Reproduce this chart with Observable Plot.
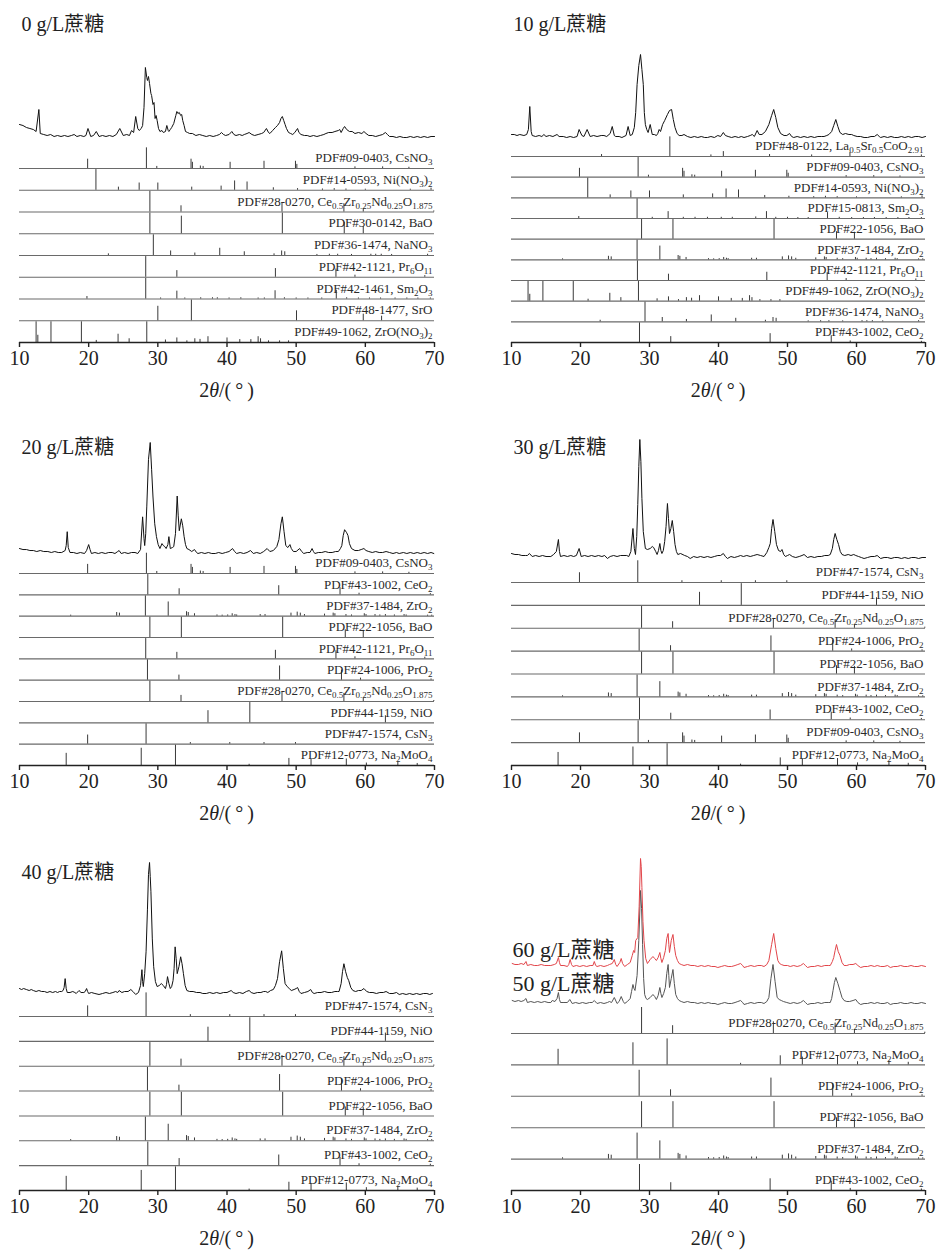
<!DOCTYPE html>
<html><head><meta charset="utf-8">
<script src="https://cdn.jsdelivr.net/npm/d3@7"></script>
<script src="https://cdn.jsdelivr.net/npm/@observablehq/plot@0.6"></script>
<style>
body{margin:0;background:#fff;}
#root{position:relative;width:937px;height:1250px;overflow:hidden;font-family:"Liberation Serif","Times New Roman","Noto Sans CJK SC",serif;color:#222;}
.xl{position:absolute;text-align:center;font-size:20px;line-height:24px;}
</style></head>
<body><div id="root"></div>
<script>
// ---------- measured patterns: [2θ, intensity (a.u.)] ----------
const p0 = [[10.0,13],[10.5,12],[11.0,10],[11.5,9],[12.0,8],[12.4,6],[12.8,28],[13.0,4],[13.5,3],[14,2],[14.5,3],[15,1],[15.5,2],[16,1],[16.5,2],[17,1],[17.5,2],[17.9,3],[18.3,1],[18.8,2],[19.3,1],[19.6,2],[19.9,9],[20.3,1],[20.7,2],[21.1,6],[21.5,1],[22,2],[22.5,1],[23,2],[23.5,1],[24.0,3],[24.5,9],[25,2],[25.5,3],[25.9,2],[26.2,7],[26.5,5],[26.8,21],[27.1,9],[27.3,7],[27.6,9],[27.8,12],[28.0,30],[28.2,70],[28.4,60],[28.5,57],[28.65,61],[28.8,54],[29.0,44],[29.1,42],[29.3,33],[29.45,35],[29.6,19],[29.75,22],[29.9,17],[30.1,9],[30.3,6],[30.6,7],[30.8,5],[31.1,6],[31.3,12],[31.5,7],[31.6,6],[31.8,8],[32.0,10],[32.3,14],[32.6,22],[32.75,26],[32.9,24],[33.1,25],[33.3,22],[33.45,23],[33.6,17],[33.8,12],[34.0,6],[34.3,5],[34.6,4],[35.0,4],[35.5,2],[36,3],[36.5,2],[37,1],[37.5,2],[38,1],[38.5,2],[38.9,3],[39.2,5],[39.5,3],[39.8,2],[40.3,3],[40.7,6],[41.0,3],[41.3,2],[41.8,3],[42.2,2],[42.5,3],[42.9,4],[43.2,5],[43.6,3],[44.0,2],[44.5,3],[45.0,4],[45.3,5],[45.7,9],[46.0,5],[46.2,4],[46.6,7],[47.0,10],[47.3,12],[47.6,15],[47.8,19],[48.0,21],[48.2,17],[48.4,13],[48.6,9],[48.9,5],[49.2,4],[49.5,3],[49.8,5],[50.2,9],[50.4,5],[50.7,3],[51.2,2],[51.6,2],[52,1],[52.5,2],[53,1],[53.5,2],[54.0,3],[54.3,4],[54.7,5],[55.2,5],[55.6,6],[56.1,7],[56.3,8],[56.5,5],[56.8,9],[57.0,11],[57.3,8],[57.7,6],[58.1,6],[58.5,4],[59.0,5],[59.5,4],[59.8,6],[60.1,4],[60.5,2],[61,2],[61.5,1],[62.0,2],[62.5,3],[62.9,5],[63.2,3],[63.5,1],[64,1],[64.5,0],[65,1],[65.5,0],[66,0],[66.5,1],[67,0],[67.5,1],[68,0],[68.5,1],[69,0],[69.5,1],[70,1]];
const p10 = [[10.0,3],[10.4,3],[10.8,2],[11.2,3],[11.8,2],[12.2,3],[12.45,8],[12.65,31],[12.85,6],[13.0,2],[13.5,1],[14.0,2],[14.4,1],[14.7,3],[15.0,1],[15.5,2],[16.0,1],[16.6,3],[16.9,1],[17.5,1],[18.0,0],[18.5,1],[19.0,0],[19.5,1],[19.8,8],[20.2,2],[20.5,1],[20.96,8],[21.4,1],[21.9,2],[22.4,1],[23.0,2],[23.4,2],[23.8,1],[24.3,4],[24.6,11],[24.9,2],[25.1,1],[25.6,1],[26.0,0],[26.3,1],[26.6,2],[26.9,11],[27.2,2],[27.5,3],[27.8,10],[28.0,25],[28.2,53],[28.45,72],[28.7,83],[28.9,68],[29.1,53],[29.25,25],[29.4,13],[29.6,8],[29.8,5],[30.1,13],[30.4,3],[30.7,3],[31.0,2],[31.2,4],[31.4,8],[31.6,6],[31.9,13],[32.2,17],[32.6,23],[32.9,27],[33.2,28],[33.45,18],[33.7,10],[34.0,4],[34.3,2],[34.7,2],[35.0,3],[35.5,1],[36.0,0],[36.5,1],[37,0],[37.5,1],[38,0],[38.4,0],[38.9,1],[39.4,0],[39.9,2],[40.3,1],[40.7,5],[41.0,2],[41.4,1],[41.9,0],[42.4,1],[42.9,0],[43.3,1],[43.7,0],[44.2,1],[44.6,2],[44.9,3],[45.2,1],[45.6,7],[45.9,3],[46.3,3],[46.8,6],[47.3,13],[47.7,22],[48.0,28],[48.3,20],[48.6,10],[49.0,4],[49.5,2],[49.9,2],[50.3,4],[50.6,1],[50.9,0],[51.4,1],[51.9,0],[52.4,1],[52.9,0],[53.4,1],[53.9,0],[54.4,1],[54.9,1],[55.3,1],[55.7,2],[56.0,3],[56.4,6],[56.7,12],[57.0,18],[57.3,11],[57.6,5],[58.0,3],[58.4,4],[58.9,3],[59.3,3],[59.6,2],[60.1,1],[60.6,1],[61.1,0],[61.6,0],[62.1,1],[62.6,1],[63.0,3],[63.3,1],[63.5,0],[64.0,1],[64.5,0],[65,1],[65.5,0],[66,0],[66.5,1],[67,0],[67.5,1],[68,0],[68.5,1],[69,1],[69.5,0],[70.0,1]];
const p20 = [[10.0,5],[10.5,4],[11.0,4],[11.5,3],[12.0,3],[12.5,2],[13.0,3],[13.5,2],[14.1,2],[14.6,1],[15.1,2],[15.6,1],[16.1,1],[16.6,3],[16.75,8],[16.9,22],[17.05,6],[17.3,1],[17.8,1],[18.3,0],[18.8,1],[19.4,0],[19.7,3],[20.0,9],[20.2,4],[20.4,0],[20.9,1],[21.4,0],[21.9,1],[22.4,0],[22.9,1],[23.4,1],[23.8,0],[24.2,2],[24.4,3],[24.7,0],[25.2,1],[25.7,0],[26.2,1],[26.7,1],[27.1,0],[27.5,4],[27.8,37],[28.0,15],[28.1,8],[28.25,20],[28.4,47],[28.65,95],[28.9,112],[29.1,85],[29.3,57],[29.55,30],[29.8,17],[30.05,9],[30.3,5],[30.6,10],[30.8,8],[31.0,7],[31.2,5],[31.45,9],[31.6,17],[31.8,5],[32.1,6],[32.3,7],[32.55,20],[32.8,58],[32.95,38],[33.1,23],[33.4,35],[33.6,28],[33.8,17],[34.0,9],[34.2,5],[34.5,4],[34.9,2],[35.3,4],[35.6,1],[35.8,0],[36.3,1],[36.8,0],[37.3,1],[37.8,0],[38.3,0],[38.8,1],[39.3,0],[39.8,1],[40.3,2],[40.8,5],[41.1,2],[41.4,0],[41.9,1],[42.4,0],[42.9,1],[43.4,3],[43.8,0],[44.3,1],[44.8,0],[45.3,2],[45.8,5],[46.2,2],[46.7,3],[47.2,7],[47.5,14],[47.8,30],[48.0,37],[48.25,22],[48.5,8],[48.8,6],[49.1,9],[49.3,5],[49.6,2],[50.0,2],[50.5,5],[50.8,2],[51.1,0],[51.6,1],[52.0,1],[52.3,5],[52.5,2],[52.7,0],[53.2,1],[53.7,1],[54.2,2],[54.7,1],[55.2,1],[55.7,2],[56.1,2],[56.4,5],[56.6,8],[56.8,18],[57.0,24],[57.3,21],[57.5,18],[57.7,10],[58.0,5],[58.5,3],[59.0,3],[59.4,4],[59.8,5],[60.1,3],[60.5,2],[61.0,1],[61.5,2],[62.0,1],[62.5,1],[63.0,2],[63.5,1],[64.0,0],[64.5,1],[64.9,0],[65.5,1],[66.0,0],[66.5,1],[67.0,0],[67.5,1],[68.0,0],[68.5,1],[69.0,0],[69.5,1],[69.9,0]];
const p30 = [[10.0,3],[10.5,2],[11.0,2],[11.5,1],[12.0,1],[12.3,1],[12.6,3],[13.0,0],[13.5,1],[14.0,0],[14.5,1],[15.0,0],[15.7,0],[16.1,2],[16.5,5],[16.8,17],[16.95,5],[17.1,0],[17.6,1],[18.1,0],[18.6,1],[19.0,0],[19.4,1],[19.8,8],[20.1,0],[20.6,1],[21.1,0],[21.6,1],[22.1,0],[22.6,1],[23.1,0],[23.5,1],[23.9,-2],[24.3,0],[24.8,1],[25.3,0],[25.8,1],[26.3,1],[26.7,1],[27.0,0],[27.3,5],[27.6,28],[27.8,8],[27.97,2],[28.15,20],[28.3,52],[28.45,90],[28.6,117],[28.75,95],[28.9,58],[29.1,25],[29.4,8],[29.7,7],[30.1,8],[30.4,10],[30.6,9],[30.9,5],[31.1,2],[31.3,6],[31.5,13],[31.65,6],[31.8,3],[32.0,6],[32.2,15],[32.4,30],[32.6,53],[32.75,38],[32.9,23],[33.1,28],[33.3,36],[33.5,25],[33.7,12],[33.9,5],[34.1,2],[34.5,3],[35.1,1],[35.5,0],[35.9,-2],[36.4,0],[36.9,-1],[37.4,0],[37.9,-1],[38.4,0],[38.9,-1],[39.4,0],[39.9,1],[40.3,1],[40.7,3],[41.0,0],[41.3,-2],[41.8,0],[42.3,-1],[42.8,0],[43.2,1],[43.6,0],[44.1,1],[44.6,0],[45.1,1],[45.6,2],[46.1,1],[46.6,0],[47.0,4],[47.3,9],[47.5,13],[47.7,28],[47.9,37],[48.15,25],[48.4,12],[48.7,6],[49.0,5],[49.2,7],[49.45,2],[49.7,0],[50.0,1],[50.3,2],[50.7,0],[51.2,-1],[51.7,0],[52.1,1],[52.4,2],[52.9,-1],[53.4,0],[53.9,-1],[54.4,0],[54.9,0],[55.4,1],[55.9,1],[56.2,2],[56.5,8],[56.7,17],[56.9,23],[57.15,17],[57.4,12],[57.65,5],[57.9,2],[58.3,1],[58.8,2],[59.2,1],[59.6,2],[59.9,1],[60.3,0],[60.7,-1],[61.1,-2],[61.6,-1],[62.1,0],[62.6,0],[63.0,1],[63.5,-2],[64.0,-1],[64.5,-1],[65.0,-2],[65.5,-1],[66.0,-1],[66.5,-2],[67.0,-1],[67.5,-2],[68.0,-1],[68.5,-1],[69.0,-2],[69.5,-1],[70.0,-1]];
const p40 = [[10.0,5],[10.3,4],[10.6,5],[11.0,4],[11.4,3],[11.7,4],[12.0,3],[12.4,2],[12.8,3],[13.2,2],[13.6,2],[14.0,1],[14.4,2],[14.8,1],[15.2,2],[15.5,1],[15.8,2],[16.1,2],[16.3,3],[16.45,6],[16.6,15],[16.75,5],[16.9,1],[17.3,1],[17.7,2],[18.0,1],[18.2,0],[18.6,3],[18.9,1],[19.3,1],[19.5,2],[19.7,5],[19.85,2],[20.0,0],[20.4,1],[20.9,0],[21.5,-1],[22.0,0],[22.5,1],[23.0,0],[23.5,1],[23.9,2],[24.2,1],[24.4,3],[24.8,1],[25.2,2],[25.7,2],[26.1,4],[26.4,2],[26.8,-1],[27.2,1],[27.5,8],[27.7,24],[27.8,12],[27.9,7],[28.1,20],[28.3,42],[28.5,85],[28.65,120],[28.8,132],[28.9,118],[29.0,103],[29.2,55],[29.4,27],[29.65,12],[29.9,7],[30.2,8],[30.5,10],[30.8,8],[31.1,5],[31.25,9],[31.4,17],[31.6,10],[31.8,5],[32.0,7],[32.2,13],[32.35,25],[32.5,47],[32.65,35],[32.8,20],[33.05,27],[33.3,37],[33.5,30],[33.7,20],[33.95,8],[34.2,3],[34.6,2],[35.1,2],[35.6,1],[36.1,1],[36.5,0],[37.0,0],[37.5,1],[38.0,0],[38.5,1],[39.0,0],[39.5,1],[40.0,1],[40.3,2],[40.6,3],[40.9,1],[41.3,0],[41.8,1],[42.3,0],[42.8,2],[43.2,3],[43.5,1],[43.9,0],[44.4,1],[44.9,1],[45.3,2],[45.6,2],[45.9,1],[46.3,3],[46.7,4],[47.0,8],[47.3,15],[47.6,32],[47.9,43],[48.15,25],[48.4,10],[48.7,7],[49.0,5],[49.3,3],[49.7,4],[50.0,5],[50.2,6],[50.45,2],[50.7,0],[51.2,1],[51.7,2],[52.1,4],[52.35,1],[52.6,0],[53.1,1],[53.6,1],[54.1,2],[54.6,1],[55.1,1],[55.6,2],[56.0,2],[56.2,2],[56.5,10],[56.7,22],[56.9,30],[57.15,22],[57.4,16],[57.6,13],[57.9,6],[58.2,3],[58.6,2],[59.0,3],[59.4,3],[59.8,5],[60.2,2],[60.6,1],[61.1,1],[61.6,0],[62.1,1],[62.6,1],[63.0,2],[63.5,0],[64.0,0],[64.5,1],[64.9,-1],[65.4,0],[65.9,-1],[66.4,0],[66.9,-1],[67.4,0],[67.9,-1],[68.4,0],[68.9,0],[69.3,-1],[69.7,0]];
const p50 = [[10.1,3],[10.5,2],[11.0,3],[11.4,2],[11.8,3],[12.1,5],[12.3,1],[12.8,2],[13.3,1],[13.8,2],[14.3,1],[14.8,2],[15.3,1],[15.7,1],[15.9,3],[16.3,2],[16.6,5],[16.8,11],[16.95,4],[17.1,1],[17.6,1],[18.1,1],[18.45,4],[18.8,0],[19.3,1],[19.8,0],[20.3,1],[20.8,0],[21.3,1],[21.7,1],[22.0,3],[22.4,0],[22.9,1],[23.4,0],[23.9,1],[24.2,2],[24.5,1],[24.9,6],[25.3,0],[25.6,2],[25.9,7],[26.2,2],[26.4,0],[26.8,2],[27.2,5],[27.4,12],[27.6,19],[27.75,15],[27.9,13],[28.2,28],[28.45,63],[28.7,113],[28.85,95],[29.0,59],[29.15,25],[29.3,9],[29.5,5],[29.7,4],[30.1,6],[30.5,9],[30.75,7],[31.0,4],[31.25,8],[31.5,16],[31.65,10],[31.8,6],[32.05,10],[32.3,16],[32.5,30],[32.7,39],[32.8,28],[32.9,16],[33.15,25],[33.4,34],[33.6,20],[33.8,9],[34.05,5],[34.3,3],[34.6,2],[35.0,1],[35.5,2],[36.0,1],[36.5,1],[37.0,0],[37.5,1],[38.0,0],[38.5,1],[39.0,0],[39.5,0],[39.9,-1],[40.4,0],[40.9,1],[41.4,0],[41.9,0],[42.4,1],[42.8,2],[43.2,3],[43.5,1],[43.7,-1],[44.2,0],[44.7,1],[45.2,0],[45.7,1],[46.2,1],[46.6,0],[47.0,2],[47.3,6],[47.6,25],[47.9,39],[48.2,22],[48.5,6],[48.8,4],[49.1,3],[49.4,2],[49.9,1],[50.4,0],[50.9,1],[51.4,0],[51.9,1],[52.3,3],[52.6,1],[52.9,-1],[53.4,0],[53.9,0],[54.4,1],[54.9,0],[55.4,1],[55.9,1],[56.2,1],[56.4,5],[56.6,13],[56.8,21],[57.0,26],[57.3,20],[57.6,13],[57.9,6],[58.2,3],[58.6,2],[59.0,2],[59.5,3],[59.9,4],[60.2,1],[60.6,-1],[61.1,0],[61.6,0],[62.1,1],[62.6,0],[63.0,1],[63.5,0],[64.0,0],[64.5,1],[64.9,-1],[65.4,0],[65.9,0],[66.4,1],[66.9,0],[67.4,0],[67.9,1],[68.4,0],[68.9,0],[69.4,1],[70.0,0]];
const p60 = [[10.1,3],[10.5,2],[11.0,2],[11.4,3],[11.8,2],[12.1,5],[12.3,1],[12.8,2],[13.3,1],[13.8,1],[14.3,2],[14.8,1],[15.3,1],[15.7,1],[16.2,2],[16.5,3],[16.8,9],[16.95,4],[17.1,1],[17.6,1],[18.1,0],[18.3,2],[18.5,7],[18.7,2],[18.9,0],[19.4,1],[19.9,0],[20.4,1],[20.9,0],[21.4,1],[21.8,1],[22.0,5],[22.2,1],[22.4,0],[22.9,1],[23.4,0],[23.9,1],[24.2,2],[24.6,3],[24.9,7],[25.1,2],[25.3,0],[25.7,4],[25.9,8],[26.1,3],[26.4,0],[26.8,2],[27.2,4],[27.5,11],[27.7,16],[27.85,14],[28.0,26],[28.3,29],[28.5,60],[28.7,108],[28.8,100],[28.9,79],[29.05,45],[29.2,26],[29.45,8],[29.7,3],[30.1,7],[30.5,10],[30.75,8],[31.0,6],[31.25,9],[31.5,14],[31.65,8],[31.8,4],[32.05,9],[32.3,16],[32.5,28],[32.7,33],[32.8,22],[32.9,14],[33.15,26],[33.4,32],[33.6,20],[33.8,11],[34.05,6],[34.3,3],[34.6,2],[35.0,1],[35.5,2],[36.0,1],[36.5,1],[37.0,0],[37.5,1],[38.0,0],[38.5,1],[39.0,0],[39.5,0],[39.9,-1],[40.4,0],[40.9,1],[41.4,0],[41.9,0],[42.4,1],[42.8,2],[43.2,3],[43.5,1],[43.7,-1],[44.2,0],[44.7,1],[45.2,0],[45.7,1],[46.2,1],[46.6,0],[47.0,2],[47.3,6],[47.7,22],[48.0,33],[48.3,18],[48.6,6],[48.85,3],[49.1,2],[49.5,1],[50.0,1],[50.4,0],[50.9,1],[51.4,0],[51.9,1],[52.3,3],[52.6,1],[52.9,-1],[53.4,0],[53.9,0],[54.4,1],[54.9,0],[55.4,1],[55.9,1],[56.2,1],[56.5,5],[56.7,9],[56.9,16],[57.1,22],[57.35,15],[57.6,11],[57.9,4],[58.2,1],[58.6,1],[59.0,2],[59.5,2],[59.9,3],[60.2,1],[60.6,-1],[61.1,0],[61.6,0],[62.1,1],[62.6,0],[63.0,1],[63.5,0],[64.0,0],[64.5,1],[64.9,-1],[65.4,0],[65.9,0],[66.4,1],[66.9,0],[67.4,0],[67.9,1],[68.4,0],[68.9,0],[69.4,1],[70.0,0]];

// ---------- reference cards: [2θ, relative intensity %] ----------
const CsNO3 = [[19.85,45],[28.35,100],[29.85,10],[34.8,45],[35.0,30],[36.15,12],[36.55,10],[40.45,30],[45.35,35],[49.9,35],[50.1,20],[58.5,8],[62.5,8],[66.3,6]];
const NiNO32 = [[21.05,100],[24.3,15],[27.3,35],[30.0,35],[34.9,15],[39.15,20],[41.1,45],[42.9,40],[46.7,12],[50.2,8],[53.8,6],[55.5,8],[57.2,6],[60.0,5],[66.5,5],[69.5,10]];
const CeZrNd = [[28.85,100],[33.35,30],[47.95,45],[56.9,40],[59.7,15],[69.9,5]];
const BaO30 = [[28.85,100],[33.4,85],[48.0,100],[56.95,55],[59.7,35]];
const BaO22 = [[28.85,100],[33.4,100],[48.05,100],[57.1,38],[59.7,35]];
const NaNO3 = [[22.85,8],[29.35,100],[31.85,22],[35.35,12],[38.95,35],[42.5,18],[46.8,8],[47.9,22],[48.35,18],[53.0,5],[54.8,6],[56.0,6],[58.0,5],[60.8,6],[61.5,6],[62.3,6],[63.8,5],[69.0,6]];
const Pr6O11 = [[28.25,100],[32.75,32],[47.0,42],[55.75,40],[58.5,10],[68.6,8]];
const Sm2O3a = [[19.75,12],[28.25,100],[30.4,5],[32.75,38],[33.9,5],[36.2,6],[37.9,6],[38.6,6],[40.3,5],[42.0,6],[44.5,5],[45.4,5],[46.95,40],[48.3,6],[50.0,5],[51.7,5],[53.7,5],[55.8,42],[57.3,6],[59.0,5],[60.6,5],[62.2,5],[64.3,5],[66.0,5],[67.6,5],[69.4,5]];
const Sm2O3b = [[19.75,10],[28.2,100],[30.4,6],[32.7,35],[34.9,6],[36.6,6],[38.4,6],[40.4,6],[42.0,6],[45.4,8],[46.95,35],[48.3,6],[50.0,6],[51.5,5],[53.0,5],[55.8,30],[57.5,6],[59.3,5],[61.0,5],[62.6,5],[64.3,5],[66.0,5],[67.6,5],[69.4,5]];
const SrO = [[30.0,70],[34.85,100],[50.05,48],[59.7,32],[62.35,22]];
const ZrONO32 = [[12.4,100],[12.65,35],[14.55,100],[18.95,100],[21.1,10],[24.25,40],[25.85,18],[28.4,100],[31.1,12],[32.75,22],[34.2,8],[35.35,18],[36.1,15],[37.25,28],[40.0,22],[41.85,14],[43.45,14],[44.5,28],[44.85,18],[46.0,8],[47.6,8],[48.9,8]];
const LaSrCoO = [[23.05,10],[32.95,100],[38.9,8],[40.7,25],[47.4,10],[53.5,8],[59.05,20],[69.4,8]];
const ZrO2 = [[17.4,5],[24.05,18],[24.45,15],[28.2,100],[31.5,70],[34.15,22],[34.4,18],[35.3,12],[38.55,6],[39.3,5],[40.1,6],[40.75,12],[41.15,8],[41.4,6],[44.8,8],[45.5,8],[49.25,15],[50.15,20],[50.6,15],[51.2,8],[54.1,10],[55.35,15],[55.6,12],[57.2,8],[58.0,6],[59.85,12],[60.1,8],[61.4,8],[62.1,6],[62.9,8],[64.2,6],[65.6,8],[65.9,6],[69.0,5],[69.6,5]];
const PrO2 = [[28.5,100],[33.05,25],[47.6,70],[56.55,50],[59.3,10],[69.5,6]];
const CeO2 = [[28.55,100],[33.08,30],[47.48,45],[56.34,35],[59.09,8],[69.4,6]];
const NiO = [[37.25,60],[43.3,100],[62.9,35]];
const CsN3 = [[19.85,45],[28.3,100],[34.7,8],[40.4,8],[45.35,8],[49.9,8]];
const Na2MoO4 = [[16.75,60],[27.6,85],[32.55,100],[43.2,6],[48.95,35],[52.15,30],[57.25,32],[60.15,12],[64.7,15],[67.5,10]];

// ---------- card labels ----------
const L_CsNO3 = "PDF#09-0403, CsNO_{3}";
const L_NiNO32 = "PDF#14-0593, Ni(NO_{3})_{2}";
const L_CeZrNd = "PDF#28-0270, Ce_{0.5}Zr_{0.25}Nd_{0.25}O_{1.875}";
const L_BaO30 = "PDF#30-0142, BaO";
const L_BaO22 = "PDF#22-1056, BaO";
const L_NaNO3 = "PDF#36-1474, NaNO_{3}";
const L_Pr6O11 = "PDF#42-1121, Pr_{6}O_{11}";
const L_Sm2O3a = "PDF#42-1461, Sm_{2}O_{3}";
const L_Sm2O3b = "PDF#15-0813, Sm_{2}O_{3}";
const L_SrO = "PDF#48-1477, SrO";
const L_ZrONO32 = "PDF#49-1062, ZrO(NO_{3})_{2}";
const L_LaSrCoO = "PDF#48-0122, La_{0.5}Sr_{0.5}CoO_{2.91}";
const L_ZrO2 = "PDF#37-1484, ZrO_{2}";
const L_PrO2 = "PDF#24-1006, PrO_{2}";
const L_CeO2 = "PDF#43-1002, CeO_{2}";
const L_NiO = "PDF#44-1159, NiO";
const L_CsN3 = "PDF#47-1574, CsN_{3}";
const L_Na2MoO4 = "PDF#12-0773, Na_{2}MoO_{4}";

const titles = ["0 g/L蔗糖","10 g/L蔗糖","20 g/L蔗糖","30 g/L蔗糖","40 g/L蔗糖","50 g/L蔗糖","60 g/L蔗糖"];
const xTicks = [10,20,30,40,50,60,70];

const cards0 = [[L_CsNO3,CsNO3],[L_NiNO32,NiNO32],[L_CeZrNd,CeZrNd],[L_BaO30,BaO30],[L_NaNO3,NaNO3],[L_Pr6O11,Pr6O11],[L_Sm2O3a,Sm2O3a],[L_SrO,SrO],[L_ZrONO32,ZrONO32]];
const cards10 = [[L_LaSrCoO,LaSrCoO],[L_CsNO3,CsNO3],[L_NiNO32,NiNO32],[L_Sm2O3b,Sm2O3b],[L_BaO22,BaO22],[L_ZrO2,ZrO2],[L_Pr6O11,Pr6O11],[L_ZrONO32,ZrONO32],[L_NaNO3,NaNO3],[L_CeO2,CeO2]];
const cards20 = [[L_CsNO3,CsNO3],[L_CeO2,CeO2],[L_ZrO2,ZrO2],[L_BaO22,BaO22],[L_Pr6O11,Pr6O11],[L_PrO2,PrO2],[L_CeZrNd,CeZrNd],[L_NiO,NiO],[L_CsN3,CsN3],[L_Na2MoO4,Na2MoO4]];
const cards30 = [[L_CsN3,CsN3],[L_NiO,NiO],[L_CeZrNd,CeZrNd],[L_PrO2,PrO2],[L_BaO22,BaO22],[L_ZrO2,ZrO2],[L_CeO2,CeO2],[L_CsNO3,CsNO3],[L_Na2MoO4,Na2MoO4]];
const cards40 = [[L_CsN3,CsN3],[L_NiO,NiO],[L_CeZrNd,CeZrNd],[L_PrO2,PrO2],[L_BaO22,BaO22],[L_ZrO2,ZrO2],[L_CeO2,CeO2],[L_Na2MoO4,Na2MoO4]];
const cards5060 = [[L_CeZrNd,CeZrNd],[L_Na2MoO4,Na2MoO4],[L_PrO2,PrO2],[L_BaO22,BaO22],[L_ZrO2,ZrO2],[L_CeO2,CeO2]];

// ---------- layout ----------
const FONT = '"Liberation Serif","Times New Roman","Noto Sans CJK SC",serif';
const FRAME = 340, MB = 30;
const cols = [{left:0,width:460,ml:19,mr:26},{left:490,width:447,ml:21,mr:12}];
const rowsAxis = [342,765,1190];

const panels = [
  {col:0,row:0,cards:cards0,topBase:174,title:titles[0],series:[{data:p0,base:205,amp:70,color:"#111"}]},
  {col:1,row:0,cards:cards10,topBase:186,title:titles[1],series:[{data:p10,base:205,amp:83,color:"#111"}]},
  {col:0,row:1,cards:cards20,topBase:192,title:titles[2],series:[{data:p20,base:212,amp:111,color:"#111"}]},
  {col:1,row:1,cards:cards30,topBase:183,title:titles[3],series:[{data:p30,base:209,amp:117,color:"#111"}]},
  {col:0,row:2,cards:cards40,topBase:174,title:titles[4],series:[{data:p40,base:197,amp:131,color:"#111"}]},
  {col:1,row:2,cards:cards5060,topBase:157,title:null,series:[
    {data:p50,base:187,amp:113,color:"#555",label:titles[5],labelY:207},
    {data:p60,base:224,amp:108,color:"#e2454a",label:titles[6],labelY:241}]}
];

const NS = "http://www.w3.org/2000/svg";
function richify(svg){
  svg.querySelectorAll("text").forEach(t=>{
    const s = t.textContent;
    if(!s.includes("_{")) return;
    while(t.firstChild) t.removeChild(t.firstChild);
    let cur = 0;
    s.split(/(_\{[^}]*\})/).forEach(p=>{
      if(!p) return;
      const sub = p.startsWith("_{");
      const txt = sub ? p.slice(2,-1) : p;
      const ts = document.createElementNS(NS,"tspan");
      const target = sub ? 3 : 0;
      if(target!==cur) ts.setAttribute("dy", target-cur);
      cur = target;
      if(sub) ts.setAttribute("font-size","9");
      ts.textContent = txt;
      t.appendChild(ts);
    });
  });
}

const root = document.getElementById("root");
panels.forEach(cfg=>{
  const col = cols[cfg.col];
  const axisY = rowsAxis[cfg.row];
  const n = cfg.cards.length;
  const sp = cfg.topBase/(n-1);
  const stickMax = Math.min(sp*0.95, 26);
  const bands = cfg.cards.map(([label],i)=>({label, base:(n-1-i)*sp}));
  const sticks = cfg.cards.flatMap(([,arr],i)=>arr.map(([t,r])=>({t, y1:bands[i].base, y2:bands[i].base + r/100*stickMax})));
  const marks = [
    Plot.ruleY(bands, {y:"base", x1:10, x2:70, stroke:"#6a6a6a", strokeWidth:1.1}),
    Plot.ruleX(sticks, {x:"t", y1:"y1", y2:"y2", stroke:"#3a3a3a", strokeWidth:1}),
    Plot.text(bands, {x:70, y:d=>d.base+10.5, text:"label", textAnchor:"end", lineAnchor:"middle", dx:-2, fontSize:13, fill:"#2a2a2a"}),
  ];
  cfg.series.forEach(s=>{
    const mx = d3.max(s.data, d=>d[1]);
    marks.push(Plot.line(s.data, {x:d=>d[0], y:d=>s.base + d[1]*s.amp/mx, stroke:s.color, strokeWidth:1}));
  });
  cfg.series.forEach(s=>{
    if(s.label) marks.push(Plot.text([s.label], {x:10, y:s.labelY, text:d=>d, textAnchor:"start", lineAnchor:"middle", dx:1, fontSize:22, fill:"#222"}));
  });
  if(cfg.title) marks.push(Plot.text([cfg.title], {x:10, y:318, text:d=>d, textAnchor:"start", lineAnchor:"middle", dx:2, fontSize:20, fill:"#222"}));
  marks.push(Plot.ruleY([0], {x1:10, x2:70, stroke:"#222", strokeWidth:1.6}));
  marks.push(Plot.axisX({ticks:xTicks, tickSize:5, tickPadding:3, fontSize:20, tickFormat:d=>String(d), label:null, stroke:"#222", strokeWidth:1.4}));

  const svg = Plot.plot({
    width: col.width, height: FRAME+MB,
    marginLeft: col.ml, marginRight: col.mr, marginTop: 0, marginBottom: MB,
    x: {domain:[10,70]},
    y: {domain:[0,FRAME], axis:null},
    style: {fontFamily: FONT, background:"transparent", overflow:"visible", color:"#222"},
    marks
  });
  richify(svg);
  const wrap = document.createElement("div");
  wrap.style.cssText = `position:absolute;left:${col.left}px;top:${axisY-FRAME}px;width:${col.width}px;`;
  wrap.appendChild(svg);
  root.appendChild(wrap);
  const xl = document.createElement("div");
  xl.className = "xl";
  xl.style.left = (col.left+col.ml)+"px";
  xl.style.width = (col.width-col.ml-col.mr)+"px";
  xl.style.top = (axisY+36)+"px";
  xl.innerHTML = '2<i>θ</i>/(\u2009°\u2009)';
  root.appendChild(xl);
});
</script>
</body></html>
